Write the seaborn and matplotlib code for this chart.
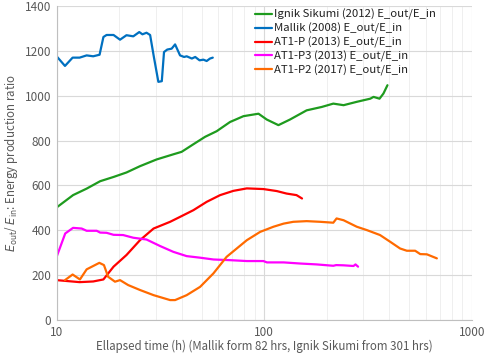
import numpy as np
import pandas as pd
import matplotlib
matplotlib.use("Agg")
import matplotlib.pyplot as plt
import seaborn as sns

SERIES_ORDER = [
    "Ignik Sikumi (2012) E_out/E_in",
    "Mallik (2008) E_out/E_in",
    "AT1-P (2013) E_out/E_in",
    "AT1-P3 (2013) E_out/E_in",
    "AT1-P2 (2017) E_out/E_in",
]
PALETTE = ["#1E9B1E", "#0070C0", "#FF0000", "#FF00FF", "#FF6A00"]

# values (elapsed hours, ratio)
ignik_t = [10, 12.0, 13.95, 16.2, 18.8, 21.7, 25.2, 30.3, 36.5, 40.0, 45.6, 51.9,
           59.0, 68.4, 79.4, 93.8, 102.8, 117, 133, 160, 189, 215, 241, 279, 324,
           336, 359, 375, 392]
ignik_r = [502, 557, 586, 619, 638, 658, 686, 716, 739, 750, 784, 817,
           842, 883, 909, 920, 894, 869, 894, 935, 950, 965, 958, 973, 987,
           995, 987, 1010, 1047]

mallik_t = [10, 10.97, 11.94, 12.9, 13.95, 15.0, 16.1, 16.8, 17.4, 18.8, 20.2,
            21.7, 23.4, 25.0, 25.9, 27.1, 28.2, 29.4, 30.9, 32.1, 32.9, 34.1,
            35.8, 37.2, 39.3, 41.1, 42.3, 44.8, 46.5, 48.8, 50.9, 52.8, 54.8, 56.5]
mallik_r = [1176, 1133, 1170, 1170, 1180, 1176, 1183, 1262, 1271, 1271, 1250,
            1270, 1265, 1284, 1274, 1281, 1271, 1173, 1062, 1065, 1195, 1206,
            1210, 1229, 1180, 1173, 1176, 1166, 1173, 1158, 1161, 1155, 1166, 1170]

at1p_t = [10, 11.2, 12.9, 15.0, 16.8, 18.8, 21.7, 25.2, 29.3, 35.2, 39.3, 45.6,
          52.8, 61.3, 71.0, 82.4, 99.1, 115, 128, 143, 152]
at1p_r = [178, 174, 169, 172, 181, 238, 290, 356, 408, 438, 460, 490,
          527, 557, 576, 587, 584, 575, 564, 557, 542]

at1p3_t = [10, 11.0, 12.0, 13.2, 13.95, 15.6, 16.2, 17.4, 18.8, 20.9, 23.4, 27.1,
           31.5, 36.5, 42.3, 49.1, 56.9, 68.4, 82.4, 99.1, 103, 124, 149, 179,
           215, 222, 241, 269, 275, 283]
at1p3_r = [282, 386, 411, 408, 398, 398, 390, 389, 380, 379, 367, 359,
           330, 304, 285, 278, 270, 267, 263, 263, 257, 257, 252, 248,
           242, 245, 244, 241, 248, 238]

at1p2_t = [10.97, 11.94, 12.95, 13.95, 16.06, 16.9, 17.7, 19.1, 20.2, 22.1, 25.2,
           29.3, 35.2, 37.2, 42.3, 49.1, 56.9, 65.9, 82.4, 95.5, 110.7, 124,
           138, 160, 186, 215, 223, 241, 279, 312, 361, 404, 451, 486, 533, 564,
           607, 678]
at1p2_r = [178, 203, 181, 226, 255, 245, 193, 171, 178, 156, 134,
           111, 89, 89, 111, 148, 208, 282, 356, 393, 416, 430,
           438, 441, 438, 434, 453, 445, 416, 401, 379, 349, 319, 309, 309, 294,
           293, 275]

frames = []
for name, t, r in zip(SERIES_ORDER,
                      [ignik_t, mallik_t, at1p_t, at1p3_t, at1p2_t],
                      [ignik_r, mallik_r, at1p_r, at1p3_r, at1p2_r]):
    frames.append(pd.DataFrame({"time": t, "ratio": r, "series": name}))
df = pd.concat(frames, ignore_index=True)

sns.set_style("white")
plt.rcParams["font.family"] = ["Noto Sans CJK JP", "DejaVu Sans"]
plt.rcParams["mathtext.fontset"] = "dejavusans"

fig = plt.figure(figsize=(4.84, 3.56), dpi=100)
ax = fig.add_axes([0.117, 0.101, 0.858, 0.882])

sns.lineplot(data=df, x="time", y="ratio", hue="series", hue_order=SERIES_ORDER,
             palette=PALETTE, estimator=None, sort=False, linewidth=1.6, ax=ax)

ax.set_xscale("log")
ax.set_xlim(10, 1000)
ax.set_ylim(0, 1400)
ax.set_yticks(np.arange(0, 1401, 200))
ax.set_xticks([10, 100, 1000])
ax.set_xticklabels(["10", "100", "1000"])
ax.grid(which="major", axis="both", color="#d9d9d9", linewidth=0.8)
ax.grid(which="minor", axis="x", color="#ececec", linewidth=0.6)
ax.set_axisbelow(True)
for s in ["top", "right"]:
    ax.spines[s].set_visible(False)
for s in ["left", "bottom"]:
    ax.spines[s].set_color("#bfbfbf")
ax.tick_params(axis="both", which="both", length=0, labelsize=8.5,
               labelcolor="#595959", pad=4)

ax.set_xlabel("Ellapsed time (h) (Mallik form 82 hrs, Ignik Sikumi from 301 hrs)",
              fontsize=8.3, color="#595959", labelpad=1)
ax.set_ylabel(r"$E_{\mathrm{out}}$/ $E_{\mathrm{in}}$: Energy production ratio",
              fontsize=8.3, color="#595959", labelpad=3)

leg = ax.legend(loc="upper left", bbox_to_anchor=(0.462, 1.012), frameon=False,
                fontsize=8.2, handlelength=1.5, handletextpad=0.1,
                labelspacing=0.22, borderaxespad=0.2, title=None)
for t in leg.get_texts():
    t.set_color("#222222")

fig.savefig("out.png", dpi=100)
